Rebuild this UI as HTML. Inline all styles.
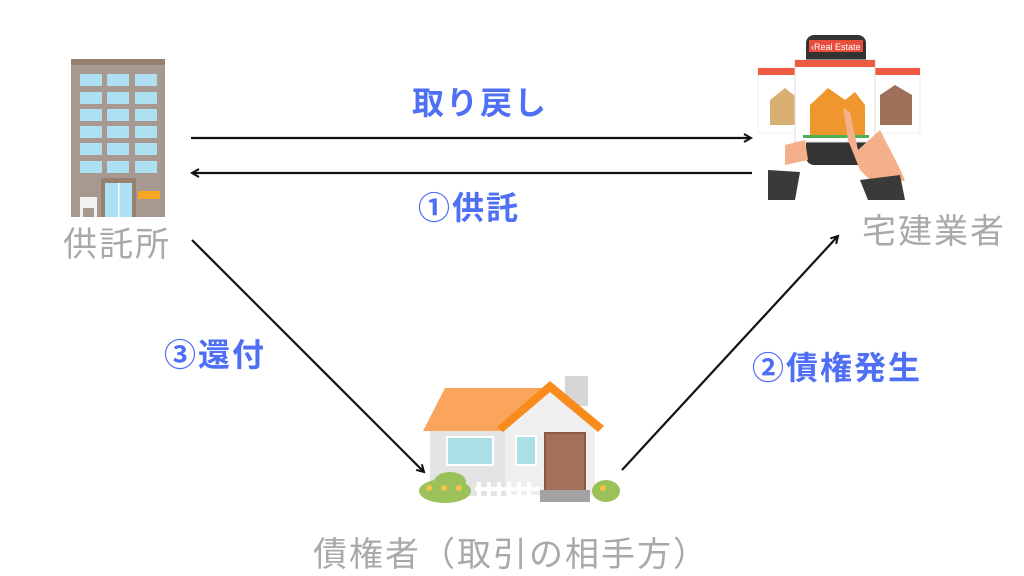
<!DOCTYPE html>
<html><head><meta charset="utf-8"><style>
body{margin:0;width:1024px;height:576px;background:#fff;overflow:hidden;position:relative;font-family:"Liberation Sans","Noto Sans CJK JP",sans-serif}
.t{position:absolute;white-space:nowrap;line-height:1}
.b{color:#4f6ff5;font-weight:bold;font-size:32px;letter-spacing:2px}
.g{color:#a9a9a9;font-size:34px;letter-spacing:2px}
</style></head><body>
<svg width="1024" height="576" style="position:absolute;left:0;top:0">
<defs><marker id="a" markerWidth="10" markerHeight="10" refX="8" refY="5" orient="auto" markerUnits="userSpaceOnUse"><path d="M1,1 L8,5 L1,9" fill="none" stroke="#111" stroke-width="2"/></marker></defs>
<g stroke="#111" stroke-width="2.2" fill="none" marker-end="url(#a)">
<line x1="191" y1="138" x2="751" y2="138"/>
<line x1="752" y1="173" x2="192" y2="173"/>
<line x1="192" y1="240" x2="424" y2="472"/>
<line x1="622" y1="470" x2="838" y2="236"/>
</g>
<rect x="71" y="62" width="94" height="155" fill="#a89990"/>
<rect x="71" y="59" width="94" height="6" fill="#98806f"/>
<g fill="#aee0f3">
<rect x="80" y="74" width="22" height="12"/><rect x="107" y="74" width="22" height="12"/><rect x="135" y="74" width="22" height="12"/>
<rect x="80" y="92" width="22" height="12"/><rect x="107" y="92" width="22" height="12"/><rect x="135" y="92" width="22" height="12"/>
<rect x="80" y="109" width="22" height="12"/><rect x="107" y="109" width="22" height="12"/><rect x="135" y="109" width="22" height="12"/>
<rect x="80" y="126" width="22" height="12"/><rect x="107" y="126" width="22" height="12"/><rect x="135" y="126" width="22" height="12"/>
<rect x="80" y="143" width="22" height="12"/><rect x="107" y="143" width="22" height="12"/><rect x="135" y="143" width="22" height="12"/>
<rect x="80" y="161" width="22" height="12"/><rect x="107" y="161" width="22" height="12"/><rect x="135" y="161" width="22" height="12"/>
</g>
<rect x="101" y="178" width="35" height="39" fill="#98806f"/>
<rect x="105" y="183" width="27" height="34" fill="#aee0f3"/>
<rect x="118" y="183" width="1.5" height="34" fill="#fff"/>
<rect x="138" y="191" width="22" height="8" fill="#f5a623"/>
<rect x="80" y="197" width="17" height="20" fill="#f2f2f2"/>
<rect x="83" y="208" width="11" height="9" fill="#a89990"/>
<rect x="806" y="35" width="60" height="130" rx="8" fill="#333"/>
<rect x="809" y="40" width="54" height="12" fill="#e74c3c"/>
<text x="811" y="50" font-size="9" fill="#fff" font-family="Liberation Sans">‹Real Estate</text>
<rect x="758" y="68" width="50" height="65" fill="#fff" stroke="#eee"/><rect x="758" y="68" width="50" height="7" fill="#ef5a43"/>
<rect x="870" y="68" width="50" height="65" fill="#fff" stroke="#eee"/><rect x="870" y="68" width="50" height="7" fill="#ef5a43"/>
<path d="M770,125 V100 L785,88 L800,100 V125Z" fill="#d9b074"/>
<path d="M880,125 V95 L895,85 L912,95 V125Z" fill="#a0715a"/>
<rect x="795" y="60" width="80" height="82" fill="#fff" stroke="#ddd"/><rect x="795" y="60" width="80" height="7" fill="#ef5a43"/>
<path d="M810,135 V105 L828,88 L845,100 L855,92 L865,105 V135Z" fill="#f0962e"/>
<rect x="803" y="135" width="66" height="3" fill="#4caf50"/>
<path d="M843,108 L850,112 L858,150 L880,130 L898,165 L905,180 L880,190 L860,170 L848,140Z" fill="#f4b08a"/>
<path d="M785,145 L805,140 L808,160 L785,165Z" fill="#f4b08a"/>
<path d="M768,170 L800,172 L795,200 L768,200Z" fill="#3a3a3a"/>
<path d="M860,180 L900,175 L905,200 L868,200Z" fill="#3a3a3a"/>
<rect x="430" y="428" width="80" height="68" fill="#e4e4e4"/>
<path d="M505,495 V425 L550,388 L595,425 V495Z" fill="#efefef"/>
<rect x="565" y="376" width="23" height="30" fill="#d6d6d6"/>
<path d="M423,431 L445,388 L545,388 L505,423 V431Z" fill="#fba55c"/>
<path d="M497,427 L550,381 L604,426 L598,432 L550,392 L503,432Z" fill="#f98a1c"/>
<rect x="447" y="437" width="46" height="28" fill="#a9dfe5" stroke="#fff" stroke-width="2"/>
<rect x="516" y="436" width="20" height="29" fill="#a9dfe5" stroke="#fff" stroke-width="2"/>
<rect x="545" y="433" width="40" height="58" fill="#a5705a" stroke="#8a5a45" stroke-width="2"/>
<rect x="540" y="490" width="50" height="12" fill="#a3a3a3"/>
<g fill="#fff"><rect x="475" y="487" width="65" height="4"/><rect x="477" y="482" width="4" height="20"/><rect x="487" y="482" width="4" height="20"/><rect x="497" y="482" width="4" height="20"/><rect x="507" y="482" width="4" height="20"/><rect x="517" y="482" width="4" height="20"/><rect x="527" y="482" width="4" height="20"/></g>
<ellipse cx="445" cy="491" rx="26" ry="12" fill="#9bc15a"/><ellipse cx="450" cy="482" rx="16" ry="10" fill="#9bc15a"/>
<ellipse cx="606" cy="491" rx="14" ry="11" fill="#9bc15a"/>
<g fill="#f5c242"><circle cx="429" cy="488" r="3"/><circle cx="444" cy="488" r="3"/><circle cx="459" cy="488" r="3"/><circle cx="603" cy="488" r="3"/></g>
</svg>
<div class="t b" style="left:412px;top:87px">取り戻し</div>
<div class="t b" style="left:418px;top:192px">①供託</div>
<div class="t b" style="left:164px;top:339px">③還付</div>
<div class="t b" style="left:752px;top:352px">②債権発生</div>
<div class="t g" style="left:63px;top:228px">供託所</div>
<div class="t g" style="left:862px;top:215px">宅建業者</div>
<div class="t g" style="left:313px;top:538px">債権者（取引の相手方）</div>
</body></html>
